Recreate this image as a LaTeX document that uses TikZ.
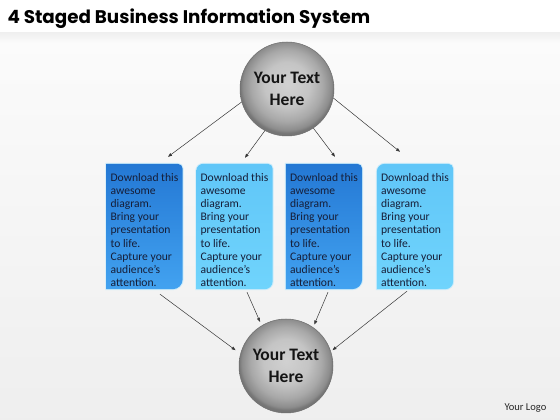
\documentclass[tikz,border=0pt]{standalone}
\usepackage{fontspec}
\setmainfont{Carlito}
\newfontfamily\titlefont{Poppins}
\usetikzlibrary{arrows.meta,backgrounds}
\definecolor{dkTop}{RGB}{36,120,212}
\definecolor{dkBot}{RGB}{66,162,240}
\definecolor{ltTop}{RGB}{96,198,248}
\definecolor{ltBot}{RGB}{112,212,252}
\definecolor{glow}{RGB}{205,236,250}
\definecolor{txt}{RGB}{22,30,56}
\definecolor{arrowc}{RGB}{55,55,55}
\definecolor{rimc}{RGB}{110,110,110}
\pgfdeclareradialshading{sphere}{\pgfpoint{0bp}{3bp}}{rgb(0bp)=(0.82,0.82,0.82); rgb(12bp)=(0.77,0.77,0.77); rgb(19bp)=(0.66,0.66,0.66); rgb(23.5bp)=(0.55,0.55,0.55); rgb(25bp)=(0.46,0.46,0.46); rgb(50bp)=(0.46,0.46,0.46)}
\newcommand\bluebox[5]{%
  \path[preaction={draw=glow,line width=2pt},#5] (#1.south west) -- ([yshift=-#2pt]#1.north west)
    arc[start angle=180,end angle=90,radius=#2pt] -- ([xshift=-#3pt]#1.north east)
    arc[start angle=90,end angle=0,radius=#3pt] -- ([yshift=#4pt]#1.south east)
    arc[start angle=0,end angle=-90,radius=#4pt] -- cycle;}
\tikzset{
  ball/.style={circle, minimum size=94pt, inner sep=0pt, shading=sphere, draw=rimc, line width=0.5pt,
    align=center, text=black!92, font=\fontsize{17.5}{22}\selectfont\bfseries},
  txtbox/.style={minimum width=76pt, minimum height=125pt, inner sep=0pt, align=left,
    text=txt, font=\fontsize{11.6}{13.2}\selectfont},
  arr/.style={draw=arrowc, line width=0.5pt, -{Triangle[length=4pt,width=3pt]}},
  dark/.style={top color=dkTop, bottom color=dkBot},
  light/.style={top color=ltTop, bottom color=ltBot}
}
\begin{document}
\begin{tikzpicture}[x=1pt,y=1pt]
\useasboundingbox (0,0) rectangle (560,420);
\node[anchor=base west, font=\titlefont\bfseries\fontsize{18.3}{22}\selectfont] (title) at (4,396) {4 Staged Business Information System};
\node[ball] (ct) at (287,331) {Your Text\\Here};
\node[ball] (cb) at (286,54) {Your Text\\Here};
\newcommand\boxtext{\rule{0pt}{15pt}Download this\\awesome\\diagram.\\Bring your\\presentation\\to life.\\Capture your\\audience’s\\attention.}
\node[txtbox] (b1) at (144.5,193.5) {\boxtext};
\node[txtbox] (b2) at (234.5,193.5) {\boxtext};
\node[txtbox] (b3) at (324,193.5) {\boxtext};
\node[txtbox] (b4) at (415,193.5) {\boxtext};
\node[anchor=base west, font=\fontsize{10.5}{12}\selectfont, text=black!85] (logo) at (501,9) {Your Logo};
\begin{scope}[on background layer]
  \shade[top color=gray!3, bottom color=gray!13] (0,0) rectangle (560,387);
  \fill[white] (0,387) rectangle (560,420);
  \shade[top color=gray!12, bottom color=gray!3] (0,377) rectangle (560,387);
  \bluebox{b1}{0.01}{5}{10}{dark}
  \bluebox{b2}{7}{5}{8}{light}
  \bluebox{b3}{0.01}{5}{10}{dark}
  \bluebox{b4}{8}{5}{8}{light}
\end{scope}
\draw[arr] (ct.196) -- ([xshift=23.5pt,yshift=7pt]b1.north);
\draw[arr] (ct.242) -- ([xshift=10.5pt,yshift=6pt]b2.north);
\draw[arr] (ct.304) -- ([xshift=11pt,yshift=7pt]b3.north);
\draw[arr] (ct.349) -- ([xshift=-15pt,yshift=12pt]b4.north);
\draw[arr,shorten >=6pt] ([xshift=15.5pt,yshift=-5pt]b1.south) -- (cb.165);
\draw[arr,shorten >=4pt] ([xshift=12.5pt,yshift=-3pt]b2.south) -- (cb.121);
\draw[arr,shorten >=3pt] ([xshift=4pt,yshift=-3pt]b3.south) -- (cb.55);
\draw[arr,shorten >=2pt] ([xshift=-8pt,yshift=-2pt]b4.south) -- (cb.18);
\end{tikzpicture}
\end{document}
